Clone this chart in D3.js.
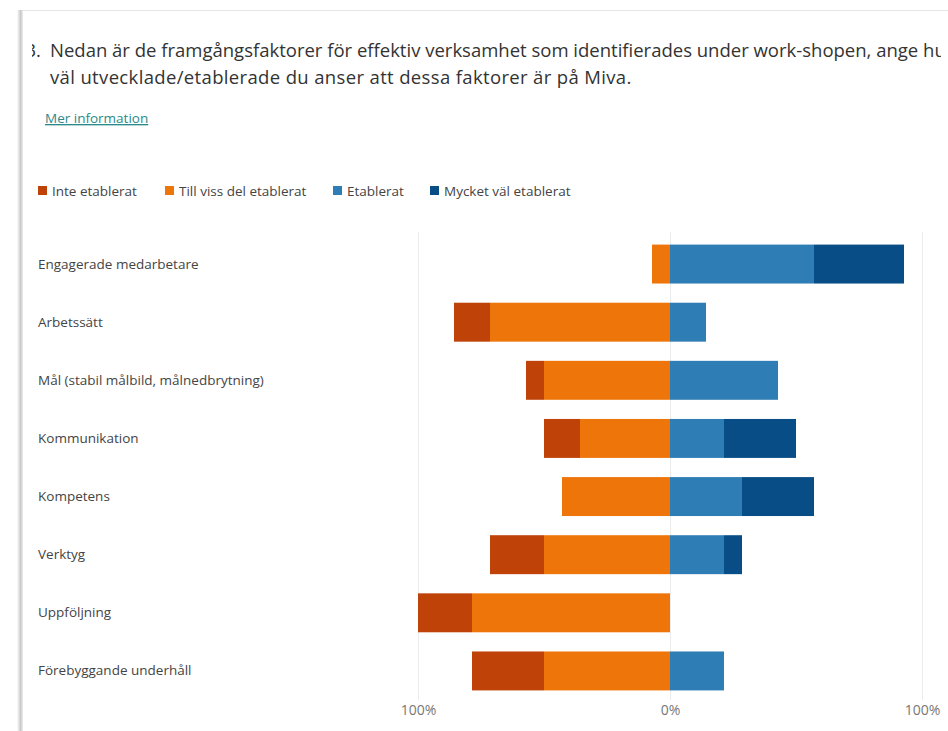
<!DOCTYPE html>
<html>
<head>
<meta charset="utf-8">
<script src="https://cdn.jsdelivr.net/npm/d3@7"></script>
<style>
  body { margin: 0; background: #fff; font-family: "Open Sans", "Noto Sans", sans-serif; }
  #chart-container { width: 948px; height: 731px; overflow: hidden; }
</style>
</head>
<body>
<div id="chart-container"></div>
<script>
const categories = [
  "Engagerade medarbetare",
  "Arbetssätt",
  "Mål (stabil målbild, målnedbrytning)",
  "Kommunikation",
  "Kompetens",
  "Verktyg",
  "Uppföljning",
  "Förebyggande underhåll"
]
const seriesNames = ["Inte etablerat", "Till viss del etablerat", "Etablerat", "Mycket väl etablerat"]
// number of answers per category
const inteEtablerat = [0, 2, 1, 2, 0, 3, 3, 4]
const tillVissDel   = [1, 10, 7, 5, 6, 7, 11, 7]
const etablerat     = [8, 2, 6, 3, 4, 3, 0, 3]
const mycketVal     = [5, 0, 0, 4, 4, 1, 0, 0]
const tickValues = [-100, 0, 100]
const tickLabels = ["100%", "0%", "100%"]

const colors = ["#bf4208", "#ed750a", "#2f7db5", "#094d86"]

document.addEventListener('DOMContentLoaded', function(){

    const W = 948, H = 731

    const svg = d3.select('#chart-container')
        .append('svg')
        .attr('width', W)
        .attr('height', H)

    // card edges
    const defs = svg.append('defs')
    const grad = defs.append('linearGradient').attr('id', 'shade')
    grad.append('stop').attr('offset', '0%').attr('stop-color', '#fff')
    grad.append('stop').attr('offset', '60%').attr('stop-color', '#c8c8c8')
    grad.append('stop').attr('offset', '100%').attr('stop-color', '#eee')
    svg.append('rect').attr('x', 17).attr('y', 10).attr('width', 6).attr('height', H - 10)
        .attr('fill', 'url(#shade)')
    svg.append('line').attr('x1', 22).attr('x2', W).attr('y1', 10.5).attr('y2', 10.5)
        .attr('stroke', '#e4e4e4')

    defs.append('clipPath').attr('id', 'titleclip')
        .append('rect').attr('x', 32).attr('y', 20).attr('width', 909).attr('height', 80)

    const title = svg.append('g').attr('clip-path', 'url(#titleclip)')
        .attr('fill', '#333').style('font-size', '18.5px')
    title.append('text').attr('x', 50).attr('y', 57)
        .text('Nedan är de framgångsfaktorer för effektiv verksamhet som identifierades under work-shopen, ange hur')
    title.append('text').attr('x', 41).attr('y', 57).attr('text-anchor', 'end').text('3.')
    title.append('text').attr('x', 50).attr('y', 84)
        .style('letter-spacing', '0.35px')
        .text('väl utvecklade/etablerade du anser att dessa faktorer är på Miva.')

    svg.append('text').attr('x', 45).attr('y', 123)
        .attr('fill', '#2b8a8a').style('font-size', '13.5px')
        .style('text-decoration', 'underline')
        .text('Mer information')

    // legend
    const legendX = [38, 165, 333, 430]
    const legend = svg.append('g').selectAll('g')
        .data(seriesNames)
        .join('g')
        .attr('transform', (d, i) => `translate(${legendX[i]}, 191)`)
    legend.append('rect').attr('x', 0).attr('y', -5).attr('width', 9).attr('height', 9)
        .attr('fill', (d, i) => colors[i])
    legend.append('text').attr('x', 14).attr('y', 4.5)
        .attr('fill', '#444').style('font-size', '13.5px')
        .text(d => d)

    // chart
    const x = d3.scaleLinear()
        .domain([-100, 100])
        .range([418, 922])

    const y = d3.scaleBand()
        .domain(categories)
        .range([235, 700])
        .paddingInner(0.33)
        .paddingOuter(0.165)

    svg.append('g').selectAll('line')
        .data(tickValues)
        .join('line')
        .attr('x1', d => x(d) + 0.5).attr('x2', d => x(d) + 0.5)
        .attr('y1', 232).attr('y2', 700)
        .attr('stroke', '#ececec')

    const xAxis = svg.append('g')
        .attr('transform', 'translate(0, 700)')
        .call(d3.axisBottom(x).tickValues(tickValues).tickFormat((d, i) => tickLabels[i]).tickSize(0).tickPadding(5))
    xAxis.select('.domain').remove()
    xAxis.selectAll('text').attr('fill', '#777').style('font-size', '14px')
        .style('font-family', '"Open Sans", "Noto Sans", sans-serif')

    svg.append('g').selectAll('text')
        .data(categories)
        .join('text')
        .attr('x', 38)
        .attr('y', d => y(d) + y.bandwidth() / 2 + 4.5)
        .attr('fill', '#444').style('font-size', '13.5px')
        .text(d => d)

    // build diverging segments
    const rows = categories.map((c, i) => {
        const counts = [inteEtablerat[i], tillVissDel[i], etablerat[i], mycketVal[i]]
        const total = d3.sum(counts)
        const p = counts.map(v => v / total * 100)
        return [
            {cat: c, s: 0, x0: -(p[0] + p[1]), x1: -p[1]},
            {cat: c, s: 1, x0: -p[1], x1: 0},
            {cat: c, s: 2, x0: 0, x1: p[2]},
            {cat: c, s: 3, x0: p[2], x1: p[2] + p[3]}
        ].filter(d => d.x1 - d.x0 > 0)
    }).flat()

    svg.append('g').selectAll('rect')
        .data(rows)
        .join('rect')
        .attr('x', d => x(d.x0))
        .attr('width', d => x(d.x1) - x(d.x0))
        .attr('y', d => y(d.cat))
        .attr('height', y.bandwidth())
        .attr('fill', d => colors[d.s])
})
</script>
</body>
</html>
